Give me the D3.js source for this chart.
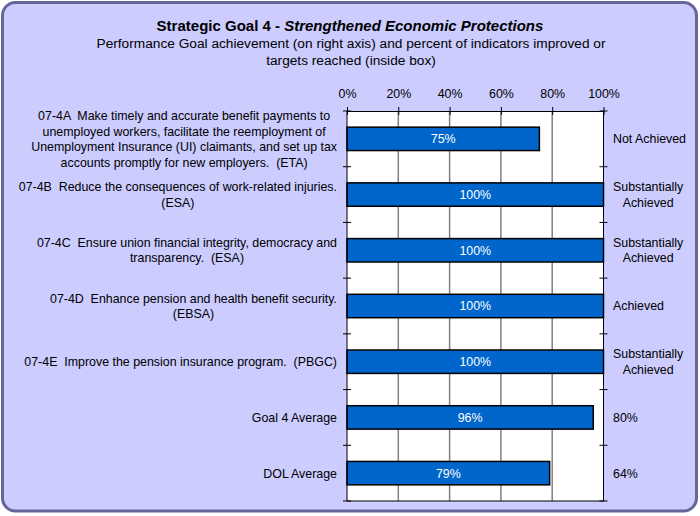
<!DOCTYPE html>
<html><head><meta charset="utf-8">
<script src="https://cdn.jsdelivr.net/npm/d3@7/dist/d3.min.js"></script>
<style>
html,body{margin:0;padding:0;background:#fff;}
svg text{font-family:"Liberation Sans",Arial,sans-serif;white-space:pre;}
</style></head>
<body><svg id="chart" width="700" height="516"></svg>
<script>
const categories = [
  ["07-4A  Make timely and accurate benefit payments to","unemployed workers, facilitate the reemployment of","Unemployment Insurance (UI) claimants, and set up tax","accounts promptly for new employers.  (ETA)"],
  ["07-4B  Reduce the consequences of work-related injuries.","(ESA)"],
  ["07-4C  Ensure union financial integrity, democracy and","transparency.  (ESA)"],
  ["07-4D  Enhance pension and health benefit security.","(EBSA)"],
  ["07-4E  Improve the pension insurance program.  (PBGC)"],
  ["Goal 4 Average"],
  ["DOL Average"]
];
const values = [75, 100, 100, 100, 100, 96, 79];
const achievement = [
  ["Not Achieved"],
  ["Substantially","Achieved"],
  ["Substantially","Achieved"],
  ["Achieved"],
  ["Substantially","Achieved"],
  ["80%"],
  ["64%"]
];
const xTicks = [0, 20, 40, 60, 80, 100];
const titleBold = "Strategic Goal 4 - ";
const titleItalic = "Strengthened Economic Protections";
const subtitle = ["Performance Goal achievement (on right axis) and percent of indicators improved or","targets reached (inside box)"];

const svg = d3.select("#chart");
svg.append("rect").attr("x",2.5).attr("y",2.5).attr("width",694).attr("height",508.5)
  .attr("rx",13).attr("fill","#ccccff").attr("stroke","#666699").attr("stroke-width",3);

const pL = 347, pR = 603.5, pT = 111, pB = 501;
const fs = 12.4;
const x = d3.scaleLinear().domain([0,100]).range([pL,pR]);
const idx = d3.range(categories.length);
const y = d3.scaleBand().domain(idx).range([pT,pB]).paddingInner(0.58).paddingOuter(0.29);
const step = y.step();

const t = svg.append("text").attr("x",350).attr("y",30.5).attr("text-anchor","middle")
  .attr("font-size",15).attr("font-weight","bold").attr("fill","#000");
t.append("tspan").text(titleBold);
t.append("tspan").attr("font-style","italic").text(titleItalic);
subtitle.forEach((s,i)=>{
  svg.append("text").attr("x",351).attr("y",48+i*16.5).attr("text-anchor","middle")
    .attr("font-size",13.7).attr("fill","#000").text(s);
});

svg.append("rect").attr("x",pL).attr("y",pT).attr("width",pR-pL).attr("height",pB-pT).attr("fill","#fff");
svg.append("g").selectAll("line").data(xTicks.slice(1,-1)).join("line")
  .attr("x1",d=>x(d)).attr("x2",d=>x(d)).attr("y1",pT).attr("y2",pB)
  .attr("stroke","#808080").attr("stroke-width",1.5);

svg.append("g").selectAll("rect").data(values).join("rect")
  .attr("x",x(0)).attr("y",(d,i)=>y(i)).attr("width",d=>x(d)-x(0)).attr("height",y.bandwidth())
  .attr("fill","#0066cc").attr("stroke","#000").attr("stroke-width",1.5);
svg.append("g").selectAll("text").data(values).join("text")
  .attr("x",d=>(x(0)+x(d))/2).attr("y",(d,i)=>y(i)+y.bandwidth()/2+4.4)
  .attr("text-anchor","middle").attr("font-size",fs).attr("fill","#fff").text(d=>d+"%");

const topAxis = d3.axisTop(x).tickValues(xTicks).tickFormat(d=>d+"%").tickSizeInner(4).tickSizeOuter(0).tickPadding(9);
const gTop = svg.append("g").attr("transform",`translate(0,${pT})`).call(topAxis);
gTop.select(".domain").attr("stroke","#000");
gTop.selectAll(".tick line").attr("y1",4).attr("y2",-4).attr("stroke","#000");
gTop.selectAll(".tick text").attr("font-size",fs).attr("font-family","Liberation Sans, Arial, sans-serif").attr("fill","#000");

svg.append("line").attr("x1",pL).attr("x2",pR).attr("y1",pB).attr("y2",pB).attr("stroke","#000");

const bounds = d3.range(categories.length+1).map(i=>pT+i*step);
[pL,pR].forEach(xx=>{
  svg.append("line").attr("x1",xx).attr("x2",xx).attr("y1",pT).attr("y2",pB).attr("stroke","#000").attr("stroke-width",1);
  svg.append("g").selectAll("line").data(bounds).join("line")
    .attr("x1",xx-4).attr("x2",xx+4).attr("y1",d=>d).attr("y2",d=>d).attr("stroke","#000");
});

const lh = 15.5;
categories.forEach((lines,i)=>{
  const cy = y(i)+y.bandwidth()/2;
  const g = svg.append("g");
  const texts = lines.map((s,j)=> g.append("text").attr("font-size",fs).attr("fill","#000")
      .attr("y", cy-(lines.length-1)/2*lh + j*lh + 4.4).text(s));
  const w = d3.max(texts, tt=>tt.node().getComputedTextLength());
  texts.forEach(tt=>tt.attr("x",337-w/2).attr("text-anchor","middle"));
});
achievement.forEach((lines,i)=>{
  const cy = y(i)+y.bandwidth()/2;
  const g = svg.append("g");
  const texts = lines.map((s,j)=> g.append("text").attr("font-size",fs).attr("fill","#000")
      .attr("y", cy-(lines.length-1)/2*lh + j*lh + 4.4).text(s));
  const w = d3.max(texts, tt=>tt.node().getComputedTextLength());
  texts.forEach(tt=>tt.attr("x",613+w/2).attr("text-anchor","middle"));
});
</script></body></html>
